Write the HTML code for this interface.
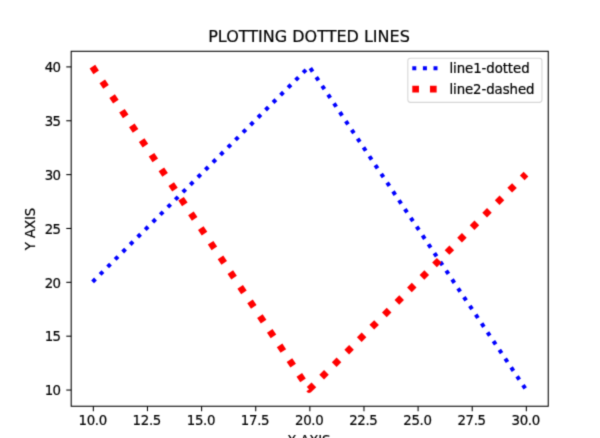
<!DOCTYPE html>
<html lang="en"><head><meta charset="utf-8"><title>PLOTTING DOTTED LINES</title>
<style>html,body{margin:0;padding:0;background:#fff;overflow:hidden}svg{display:block}text{font-family:"DejaVu Sans","Liberation Sans",sans-serif;fill:#000;stroke:#000;stroke-width:0.2px}</style></head><body>
<svg width="600" height="438" viewBox="0 0 600 438">
<defs><filter id="soft" x="0" y="0" width="600" height="438" filterUnits="userSpaceOnUse" color-interpolation-filters="sRGB"><feConvolveMatrix order="3" kernelMatrix="0.0225 0.1050 0.0225 0.1050 0.4900 0.1050 0.0225 0.1050 0.0225" divisor="1" edgeMode="duplicate" preserveAlpha="true"/></filter></defs>
<rect x="0" y="0" width="600" height="438" fill="#ffffff"/>
<g filter="url(#soft)">
<rect x="-10" y="-10" width="620" height="458" fill="#ffffff"/>
<g fill="none" stroke-linecap="butt" stroke-linejoin="round">
<polyline points="92.60,281.86 309.25,66.58 526.15,389.80" stroke="#0000ff" stroke-width="4.00" stroke-dasharray="4.00 6.60"/>
<polyline points="92.43,66.73 309.15,389.47 525.99,174.06" stroke="#ff0000" stroke-width="6.67" stroke-dasharray="6.67 11.00"/>
</g>
<rect x="71.20" y="51.30" width="477.05" height="354.95" fill="none" stroke="#000" stroke-width="1.07"/>
<g stroke="#000" stroke-width="1.07">
<line x1="93.35" y1="406.25" x2="93.35" y2="411.17"/>
<line x1="147.47" y1="406.25" x2="147.47" y2="411.17"/>
<line x1="201.60" y1="406.25" x2="201.60" y2="411.17"/>
<line x1="255.72" y1="406.25" x2="255.72" y2="411.17"/>
<line x1="309.85" y1="406.25" x2="309.85" y2="411.17"/>
<line x1="363.98" y1="406.25" x2="363.98" y2="411.17"/>
<line x1="418.10" y1="406.25" x2="418.10" y2="411.17"/>
<line x1="472.23" y1="406.25" x2="472.23" y2="411.17"/>
<line x1="526.35" y1="406.25" x2="526.35" y2="411.17"/>
<line x1="66.28" y1="390.05" x2="71.20" y2="390.05"/>
<line x1="66.28" y1="336.19" x2="71.20" y2="336.19"/>
<line x1="66.28" y1="282.33" x2="71.20" y2="282.33"/>
<line x1="66.28" y1="228.48" x2="71.20" y2="228.48"/>
<line x1="66.28" y1="174.62" x2="71.20" y2="174.62"/>
<line x1="66.28" y1="120.76" x2="71.20" y2="120.76"/>
<line x1="66.28" y1="66.90" x2="71.20" y2="66.90"/>
</g>
<g font-size="13.33">
<text x="92.85" y="425.25" text-anchor="middle" textLength="28.7" lengthAdjust="spacing">10.0</text>
<text x="146.97" y="425.25" text-anchor="middle" textLength="28.7" lengthAdjust="spacing">12.5</text>
<text x="201.10" y="425.25" text-anchor="middle" textLength="28.7" lengthAdjust="spacing">15.0</text>
<text x="255.22" y="425.25" text-anchor="middle" textLength="28.7" lengthAdjust="spacing">17.5</text>
<text x="309.35" y="425.25" text-anchor="middle" textLength="28.7" lengthAdjust="spacing">20.0</text>
<text x="363.48" y="425.25" text-anchor="middle" textLength="28.7" lengthAdjust="spacing">22.5</text>
<text x="417.60" y="425.25" text-anchor="middle" textLength="28.7" lengthAdjust="spacing">25.0</text>
<text x="471.73" y="425.25" text-anchor="middle" textLength="28.7" lengthAdjust="spacing">27.5</text>
<text x="525.85" y="425.25" text-anchor="middle" textLength="28.7" lengthAdjust="spacing">30.0</text>
<text x="61.10" y="395.35" text-anchor="end" textLength="16.3" lengthAdjust="spacing">10</text>
<text x="61.10" y="341.49" text-anchor="end" textLength="16.3" lengthAdjust="spacing">15</text>
<text x="61.10" y="287.63" text-anchor="end" textLength="16.3" lengthAdjust="spacing">20</text>
<text x="61.10" y="233.78" text-anchor="end" textLength="16.3" lengthAdjust="spacing">25</text>
<text x="61.10" y="179.92" text-anchor="end" textLength="16.3" lengthAdjust="spacing">30</text>
<text x="61.10" y="126.06" text-anchor="end" textLength="16.3" lengthAdjust="spacing">35</text>
<text x="61.10" y="72.20" text-anchor="end" textLength="16.3" lengthAdjust="spacing">40</text>
<text x="308.90" y="444.50" text-anchor="middle" textLength="43.2" lengthAdjust="spacing">X AXIS</text>
<text transform="translate(35.20 229.00) rotate(-90)" text-anchor="middle" textLength="42.4" lengthAdjust="spacing">Y AXIS</text>
</g>
<text x="309.00" y="42.30" text-anchor="middle" font-size="16.00">PLOTTING DOTTED LINES</text>
<rect x="407.85" y="58.20" width="134.10" height="44.15" rx="2.6" ry="2.6" fill="#fff" fill-opacity="0.8" stroke="#cccccc" stroke-opacity="0.8" stroke-width="1.07"/>
<line x1="412.30" y1="68.35" x2="438.97" y2="68.35" stroke="#0000ff" stroke-width="4.00" stroke-dasharray="4.00 6.60"/>
<line x1="412.30" y1="89.1" x2="438.97" y2="89.1" stroke="#ff0000" stroke-width="6.67" stroke-dasharray="6.67 11.00"/>
<g font-size="13.33">
<text id="lg1" x="449.40" y="72.9" textLength="80.2" lengthAdjust="spacing">line1-dotted</text>
<text id="lg2" x="449.40" y="93.5" textLength="85.1" lengthAdjust="spacing">line2-dashed</text>
</g>
</g>
</svg></body></html>
